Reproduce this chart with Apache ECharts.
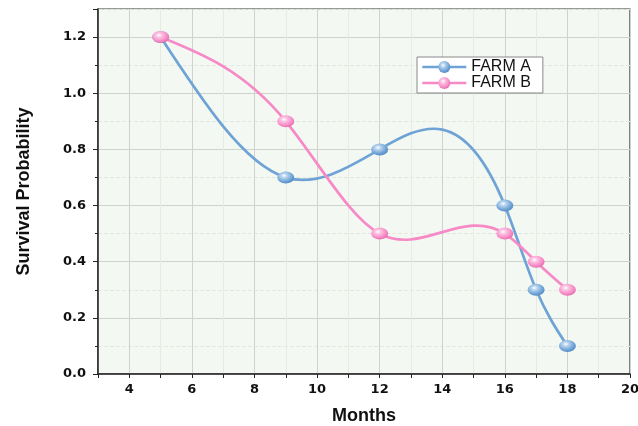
<!DOCTYPE html>
<html><head><meta charset="utf-8">
<script src="https://cdn.jsdelivr.net/npm/echarts@6/dist/echarts.min.js"></script>
<style>html,body{margin:0;padding:0;background:#fff}#c{width:638px;height:426px}</style>
</head><body><div id="c"></div>
<script>
const months = [5, 9, 12, 16, 17, 18];
const farmA = [1.2, 0.7, 0.8, 0.6, 0.3, 0.1];
const farmB = [1.2, 0.9, 0.5, 0.5, 0.4, 0.3];
const seriesNames = ['FARM A', 'FARM B'];
const xLabel = 'Months';
const yLabel = 'Survival Probability';

// Natural cubic spline through the data points, expressed as bezier segments in data space
function splineSegments(xs, ys) {
  const n = xs.length;
  const h = [], M = new Array(n).fill(0);
  for (let i = 0; i < n - 1; i++) h.push(xs[i + 1] - xs[i]);
  const a = [], b = [], c = [], d = [];
  for (let i = 1; i < n - 1; i++) {
    a.push(h[i - 1]); b.push(2 * (h[i - 1] + h[i])); c.push(h[i]);
    d.push(6 * ((ys[i + 1] - ys[i]) / h[i] - (ys[i] - ys[i - 1]) / h[i - 1]));
  }
  const m = b.length;
  for (let i = 1; i < m; i++) {
    const w = a[i] / b[i - 1];
    b[i] -= w * c[i - 1]; d[i] -= w * d[i - 1];
  }
  const sol = new Array(m);
  for (let i = m - 1; i >= 0; i--) sol[i] = (d[i] - (i < m - 1 ? c[i] * sol[i + 1] : 0)) / b[i];
  for (let i = 0; i < m; i++) M[i + 1] = sol[i];
  const segs = [];
  for (let i = 0; i < n - 1; i++) {
    const hi = h[i], s = (ys[i + 1] - ys[i]) / hi;
    const d0 = s - hi * (2 * M[i] + M[i + 1]) / 6;
    const d1 = s + hi * (M[i] + 2 * M[i + 1]) / 6;
    segs.push([[xs[i] + hi / 3, ys[i] + d0 * hi / 3], [xs[i + 1] - hi / 3, ys[i + 1] - d1 * hi / 3], [xs[i + 1], ys[i + 1]]]);
  }
  return segs;
}

function ball(base, light, dark) {
  return {type: 'radial', x: 0.4, y: 0.35, r: 0.7, colorStops: [
    {offset: 0, color: '#ffffff'}, {offset: 0.25, color: light}, {offset: 0.7, color: base}, {offset: 1, color: dark}]};
}
const blue = '#6fa3d6', pink = '#f78ac6';
const chart = echarts.init(document.getElementById('c'));
const font = 'Liberation Sans, Arial, sans-serif';
const tickFont = 'DejaVu Sans, sans-serif';

function curve(name, xs, ys, color) {
  const segs = splineSegments(xs, ys);
  return {
    name: name + ' curve', type: 'custom', silent: true,
    data: xs.map((x, i) => [x, ys[i]]),
    encode: {x: 0, y: 1},
    renderItem(params, api) {
      if (params.dataIndex !== 0) return null;
      const p0 = api.coord([xs[0], ys[0]]);
      let d = 'M' + p0[0] + ',' + p0[1];
      segs.forEach(sg => {
        const q = sg.map(pt => api.coord(pt));
        d += ' C' + q[0][0] + ',' + q[0][1] + ' ' + q[1][0] + ',' + q[1][1] + ' ' + q[2][0] + ',' + q[2][1];
      });
      return {type: 'path', shape: {pathData: d}, style: {fill: 'none', stroke: color, lineWidth: 2.7}};
    }
  };
}
function marks(name, xs, ys, color, light, dark) {
  return {
    name, type: 'line',
    data: xs.map((x, i) => [x, ys[i]]),
    symbol: 'circle', symbolSize: [17, 12],
    lineStyle: {color, width: 2.6, opacity: 0},
    itemStyle: {color: ball(color, light, dark), borderWidth: 0},
    emphasis: {disabled: true}, z: 3
  };
}
chart.setOption({
  animation: false,
  backgroundColor: '#fff',
  grid: {left: 98, right: 8, top: 9, bottom: 52, outerBoundsMode: 'none', containLabel: false,
    show: true, backgroundColor: '#f3f9f2', borderColor: '#333', borderWidth: 1.2},
  legend: {
    left: 417, top: 57, orient: 'vertical', itemGap: 0, itemWidth: 44, itemHeight: 15,
    backgroundColor: '#fff', borderColor: '#888', borderWidth: 1, padding: [2, 12, 2, 4],
    textStyle: {fontFamily: font, fontSize: 16, color: '#111'},
    data: [
      {name: seriesNames[0], lineStyle: {color: blue, width: 2.6, opacity: 1}},
      {name: seriesNames[1], lineStyle: {color: pink, width: 2.6, opacity: 1}}
    ]
  },
  xAxis: [{
    type: 'value', min: 3, max: 20, interval: 1,
    name: xLabel, nameLocation: 'middle', nameGap: 33,
    nameTextStyle: {fontFamily: font, fontSize: 18, fontWeight: 'bold', color: '#111'},
    axisLine: {onZero: false, lineStyle: {color: '#222', width: 1.5}},
    axisTick: {length: 4, lineStyle: {color: '#222'}},
    axisLabel: {fontFamily: tickFont, fontSize: 13, fontWeight: 'bold', color: '#111', margin: 9,
      formatter: v => (v % 2 === 0 ? String(v) : '')},
    splitLine: {show: true, lineStyle: {color: ['#e6ece4', '#cfd3cd'], width: 1}}
  }],
  yAxis: {
    type: 'value', min: 0, max: 1.3, interval: 0.2,
    name: yLabel, nameLocation: 'middle', nameGap: 65,
    nameTextStyle: {fontFamily: font, fontSize: 18, fontWeight: 'bold', color: '#111'},
    axisLine: {lineStyle: {color: '#222', width: 1.5}},
    axisTick: {length: 5, lineStyle: {color: '#222'}},
    minorTick: {show: true, splitNumber: 2, length: 3, lineStyle: {color: '#222'}},
    axisLabel: {fontFamily: tickFont, fontSize: 13, fontWeight: 'bold', color: '#111', margin: 12,
      showMaxLabel: false, formatter: v => v.toFixed(1)},
    splitLine: {show: true, lineStyle: {color: '#cfd3cd', width: 1}},
    minorSplitLine: {show: true, lineStyle: {color: '#e3e9e1', type: 'dashed', width: 1}}
  },
  series: [
    curve(seriesNames[0], months, farmA, blue),
    curve(seriesNames[1], months, farmB, pink),
    marks(seriesNames[0], months, farmA, blue, '#b6d3ee', '#4d86bf'),
    marks(seriesNames[1], months, farmB, pink, '#fbc4e2', '#e06aa8')
  ]
});
</script></body></html>
